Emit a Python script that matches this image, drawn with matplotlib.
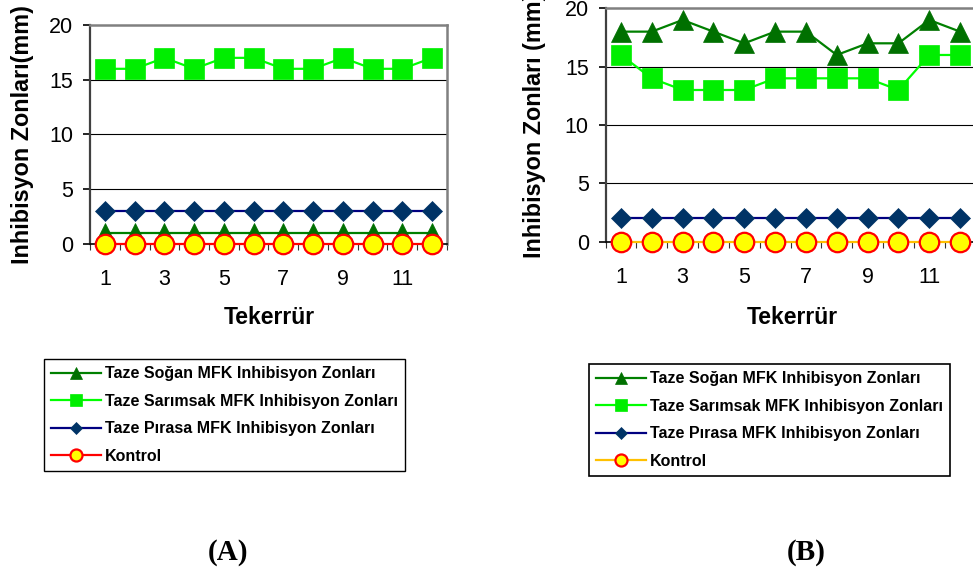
import matplotlib
matplotlib.use("Agg")
import matplotlib.pyplot as plt

# ---------------- data ----------------
reps = [1, 2, 3, 4, 5, 6, 7, 8, 9, 10, 11, 12]
x_tick_labels = ["1", "3", "5", "7", "9", "11"]
x_tick_pos = [1, 3, 5, 7, 9, 11]
y_ticks = [0, 5, 10, 15, 20]

series_names = [
    "Taze Soğan MFK Inhibisyon Zonları",
    "Taze Sarımsak MFK Inhibisyon Zonları",
    "Taze Pırasa MFK Inhibisyon Zonları",
    "Kontrol",
]

# Panel A
a_sogan = [1, 1, 1, 1, 1, 1, 1, 1, 1, 1, 1, 1]
a_sarimsak = [16, 16, 17, 16, 17, 17, 16, 16, 17, 16, 16, 17]
a_pirasa = [3, 3, 3, 3, 3, 3, 3, 3, 3, 3, 3, 3]
a_kontrol = [0, 0, 0, 0, 0, 0, 0, 0, 0, 0, 0, 0]

# Panel B
b_sogan = [18, 18, 19, 18, 17, 18, 18, 16, 17, 17, 19, 18]
b_sarimsak = [16, 14, 13, 13, 13, 14, 14, 14, 14, 13, 16, 16]
b_pirasa = [2, 2, 2, 2, 2, 2, 2, 2, 2, 2, 2, 2]
b_kontrol = [0, 0, 0, 0, 0, 0, 0, 0, 0, 0, 0, 0]

W, H = 973, 573
plt.rcParams["font.family"] = ["Liberation Sans", "DejaVu Sans"]

fig = plt.figure(figsize=(W / 100, H / 100), dpi=100)


def px_axes(left, top, right, bottom):
    return fig.add_axes([left / W, 1 - bottom / H, (right - left) / W, (bottom - top) / H])


def style_for(i, kontrol_line):
    styles = [
        dict(color="#008000", marker="^", markersize=14.5, markerfacecolor="#007000",
             markeredgecolor="#007000", markeredgewidth=0.5),
        dict(color="#00FF00", marker="s", markersize=14.5, markerfacecolor="#00EE00",
             markeredgecolor="#00EE00", markeredgewidth=0.5),
        dict(color="#000080", marker="D", markersize=10, markerfacecolor="#003366",
             markeredgecolor="#003366", markeredgewidth=0.5),
        dict(color=kontrol_line, marker="o", markersize=14, markerfacecolor="#FFFF00",
             markeredgecolor="#FF0000", markeredgewidth=1.6),
    ]
    return styles[i]


def draw_panel(ax, data, kontrol_line):
    for i, (name, vals) in enumerate(zip(series_names, data)):
        ax.plot(reps, vals, label=name, linewidth=1.6, zorder=3 + i * 0.1,
                clip_on=False, **style_for(i, kontrol_line))
    ax.set_xlim(0.5, 12.5)
    ax.set_ylim(0, 20)
    ax.set_yticks(y_ticks)
    ax.set_yticklabels([str(v) for v in y_ticks], fontsize=15.5)
    ax.tick_params(axis="y", direction="out", length=5, width=1.2, pad=7, color="black")
    # category tick marks between categories
    ax.set_xticks([v + 0.5 for v in [0] + reps])
    ax.set_xticklabels([])
    ax.tick_params(axis="x", which="major", direction="out", length=4, width=0.8, color="#333333")
    ax.set_xticks(x_tick_pos, minor=True)
    ax.set_xticklabels(x_tick_labels, minor=True, fontsize=15.5)
    ax.tick_params(axis="x", which="minor", length=0, pad=18)
    for y in [5, 10, 15]:
        ax.axhline(y, color="black", linewidth=0.8, zorder=1)
    ax.spines["top"].set_color("#808080")
    ax.spines["top"].set_linewidth(1.8)
    ax.spines["right"].set_color("#808080")
    ax.spines["right"].set_linewidth(1.8)
    ax.spines["left"].set_color("#404040")
    ax.spines["left"].set_linewidth(1.6)
    ax.spines["bottom"].set_color("black")
    ax.spines["bottom"].set_linewidth(1.2)


axA = px_axes(90, 25, 447, 244)
draw_panel(axA, [a_sogan, a_sarimsak, a_pirasa, a_kontrol], "#FF0000")

axB = px_axes(605.5, 8.3, 975.5, 241.7)
draw_panel(axB, [b_sogan, b_sarimsak, b_pirasa, b_kontrol], "#FFC000")

# axis titles
fig.text(23 / W, 1 - 134.5 / H, "Inhibisyon Zonları(mm)", rotation=90, ha="center",
         va="center", fontsize=16.8, fontweight="bold")
fig.text(535 / W, 1 - 125 / H, "Inhibisyon Zonları (mm)", rotation=90, ha="center",
         va="center", fontsize=16.8, fontweight="bold")
fig.text(269 / W, 1 - 318 / H, "Tekerrür", ha="center", va="center", fontsize=16.5,
         fontweight="bold")
fig.text(792 / W, 1 - 317 / H, "Tekerrür", ha="center", va="center", fontsize=16.5,
         fontweight="bold")

# legends
leg_kw = dict(loc="upper left", prop=dict(family="Liberation Sans", weight="bold", size=11.5),
              handlelength=3.1, handletextpad=0.25, borderpad=0.45, labelspacing=0.78,
              borderaxespad=0, markerscale=0.62, fancybox=False, framealpha=1,
              edgecolor="black")
hA, lA = axA.get_legend_handles_labels()
legA = fig.legend(hA, lA, bbox_to_anchor=(44 / W, 1 - 359 / H), **leg_kw)
legA.get_frame().set_linewidth(1.0)
hB, lB = axB.get_legend_handles_labels()
legB = fig.legend(hB, lB, bbox_to_anchor=(589 / W, 1 - 364 / H), **leg_kw)
legB.get_frame().set_linewidth(1.2)

# panel labels
fig.text(228 / W, 1 - 553 / H, "(A)", ha="center", va="center", fontsize=21,
         fontweight="bold", family="Liberation Serif")
fig.text(806 / W, 1 - 553 / H, "(B)", ha="center", va="center", fontsize=21,
         fontweight="bold", family="Liberation Serif")

fig.savefig("out.png", dpi=100)
